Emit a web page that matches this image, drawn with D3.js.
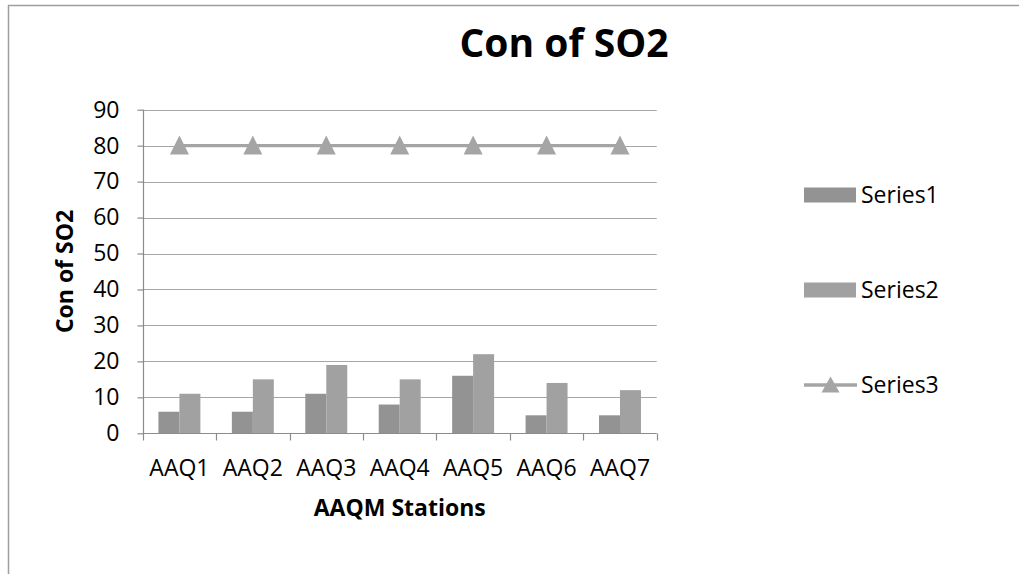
<!DOCTYPE html>
<html>
<head>
<meta charset="utf-8">
<script src="https://cdn.jsdelivr.net/npm/d3@7"></script>
<style>
  html, body { margin: 0; padding: 0; background: #fff; }
  svg { display: block; font-family: "Open Sans", Lato, sans-serif; }
</style>
</head>
<body>
<div id="chart"></div>
<script>
// chart data
const stations = ["AAQ1", "AAQ2", "AAQ3", "AAQ4", "AAQ5", "AAQ6", "AAQ7"];
const seriesNames = ["Series1", "Series2", "Series3"];
const series1 = [6, 6, 11, 8, 16, 5, 5];
const series2 = [11, 15, 19, 15, 22, 14, 12];
const series3 = [80, 80, 80, 80, 80, 80, 80];
const yTicks = [0, 10, 20, 30, 40, 50, 60, 70, 80, 90];

const chartTitle = "Con of SO2";
const xTitle = "AAQM Stations";
const yTitle = "Con of SO2";

const width = 1019;
const height = 574;
const plot = { left: 142.7, right: 656.7, top: 109.7, bottom: 433.3 };

const barColors = { Series1: "#939393", Series2: "#a1a1a1" };
const lineColor = "#a5a5a5";
const gridColor = "#a6a6a6";
const axisColor = "#8c8c8c";

const svg = d3.select("#chart")
    .append("svg")
    .attr("width", width)
    .attr("height", height);

svg.append("rect")
    .attr("width", width)
    .attr("height", height)
    .attr("fill", "white");

// chart frame (only the top & left edges are in the picture)
svg.append("rect")
    .attr("x", 8.5)
    .attr("y", 5.5)
    .attr("width", width + 20)
    .attr("height", height + 20)
    .attr("fill", "none")
    .attr("stroke", "#9e9e9e")
    .attr("stroke-width", 1.5);

const x = d3.scaleBand()
    .domain(stations)
    .range([plot.left, plot.right])
    .padding(0);

const xInner = d3.scaleBand()
    .domain(["Series1", "Series2"])
    .range([0, x.bandwidth()])
    .paddingInner(0)
    .paddingOuter(0.75);

const y = d3.scaleLinear()
    .domain([0, 90])
    .range([plot.bottom, plot.top]);

// gridlines
svg.append("g")
    .selectAll("line")
    .data(yTicks.filter(d => d > 0))
    .join("line")
    .attr("x1", plot.left)
    .attr("x2", plot.right)
    .attr("y1", d => Math.round(y(d)) + 0.5)
    .attr("y2", d => Math.round(y(d)) + 0.5)
    .attr("stroke", gridColor)
    .attr("stroke-width", 1.2);

// bars
const rows = stations.map((s, i) => ({ station: s, Series1: series1[i], Series2: series2[i] }));

svg.append("g")
    .selectAll("g")
    .data(rows)
    .join("g")
    .attr("transform", d => `translate(${x(d.station)},0)`)
    .selectAll("rect")
    .data(d => ["Series1", "Series2"].map(k => ({ key: k, value: d[k] })))
    .join("rect")
    .attr("x", d => xInner(d.key))
    .attr("y", d => y(d.value))
    .attr("width", xInner.bandwidth())
    .attr("height", d => y(0) - y(d.value))
    .attr("fill", d => barColors[d.key]);

// y axis
const yAxis = d3.axisLeft(y)
    .tickValues(yTicks)
    .tickSize(6)
    .tickPadding(18)
    .tickFormat(d3.format("d"));

const yAxisG = svg.append("g")
    .attr("transform", `translate(${Math.round(plot.left) + 0.5},0)`)
    .call(yAxis);

yAxisG.selectAll("line, path").attr("stroke", axisColor).attr("stroke-width", 1.2);
yAxisG.select(".domain").attr("d", `M0,${y(90)}V${y(0)}`);
yAxisG.selectAll("text")
    .attr("font-family", "'Open Sans', sans-serif")
    .attr("font-size", 23)
    .attr("fill", "#000");

// x axis: ticks sit at the category boundaries
const xAxisG = svg.append("g")
    .attr("transform", `translate(0,${Math.round(plot.bottom) + 0.5})`);

xAxisG.append("line")
    .attr("x1", plot.left)
    .attr("x2", plot.right)
    .attr("stroke", axisColor)
    .attr("stroke-width", 1.2);

const boundaries = stations.map(s => x(s)).concat([x(stations[stations.length - 1]) + x.bandwidth()]);

xAxisG.selectAll("line.tick")
    .data(boundaries)
    .join("line")
    .attr("class", "tick")
    .attr("x1", d => Math.round(d) + 0.5)
    .attr("x2", d => Math.round(d) + 0.5)
    .attr("y1", 0)
    .attr("y2", 7)
    .attr("stroke", axisColor)
    .attr("stroke-width", 1.2);

xAxisG.selectAll("text")
    .data(stations)
    .join("text")
    .attr("x", d => x(d) + x.bandwidth() / 2)
    .attr("y", 42)
    .attr("text-anchor", "middle")
    .attr("font-size", 23)
    .attr("fill", "#000")
    .text(d => d);

// series3 line with triangle markers
const line = d3.line()
    .x((d, i) => x(stations[i]) + x.bandwidth() / 2)
    .y(d => y(d));

svg.append("path")
    .datum(series3)
    .attr("d", line)
    .attr("fill", "none")
    .attr("stroke", lineColor)
    .attr("stroke-width", 3.3);

// Excel-ish triangle marker, a bit taller than equilateral
const triangle = (w, h) => `M0,${-h * 0.53}L${w / 2},${h * 0.47}L${-w / 2},${h * 0.47}Z`;

svg.append("g")
    .selectAll("path")
    .data(series3)
    .join("path")
    .attr("d", triangle(19, 19))
    .attr("transform", (d, i) => `translate(${x(stations[i]) + x.bandwidth() / 2},${y(d)})`)
    .attr("fill", lineColor);

// titles
svg.append("text")
    .attr("x", 564)
    .attr("y", 57)
    .attr("text-anchor", "middle")
    .attr("font-size", 39)
    .attr("font-weight", "bold")
    .text(chartTitle);

svg.append("text")
    .attr("x", (plot.left + plot.right) / 2)
    .attr("y", 516)
    .attr("text-anchor", "middle")
    .attr("font-size", 23)
    .attr("font-weight", "bold")
    .text(xTitle);

svg.append("text")
    .attr("transform", `translate(73,${(plot.top + plot.bottom) / 2}) rotate(-90)`)
    .attr("text-anchor", "middle")
    .attr("font-size", 23)
    .attr("font-weight", "bold")
    .text(yTitle);

// legend
const legend = svg.append("g")
    .selectAll("g")
    .data(seriesNames)
    .join("g")
    .attr("transform", (d, i) => `translate(804,${195 + i * 95})`);

legend.filter(d => d !== "Series3")
    .append("rect")
    .attr("x", 0)
    .attr("y", -7.5)
    .attr("width", 52)
    .attr("height", 15)
    .attr("fill", d => barColors[d]);

const lineItem = legend.filter(d => d === "Series3");
lineItem.append("line")
    .attr("x1", 0)
    .attr("x2", 53)
    .attr("stroke", lineColor)
    .attr("stroke-width", 3.3);
lineItem.append("path")
    .attr("d", triangle(18, 16))
    .attr("transform", "translate(26.5,0)")
    .attr("fill", lineColor);

legend.append("text")
    .attr("x", 57)
    .attr("y", 8)
    .attr("font-size", 23)
    .attr("fill", "#000")
    .text(d => d);
</script>
</body>
</html>
